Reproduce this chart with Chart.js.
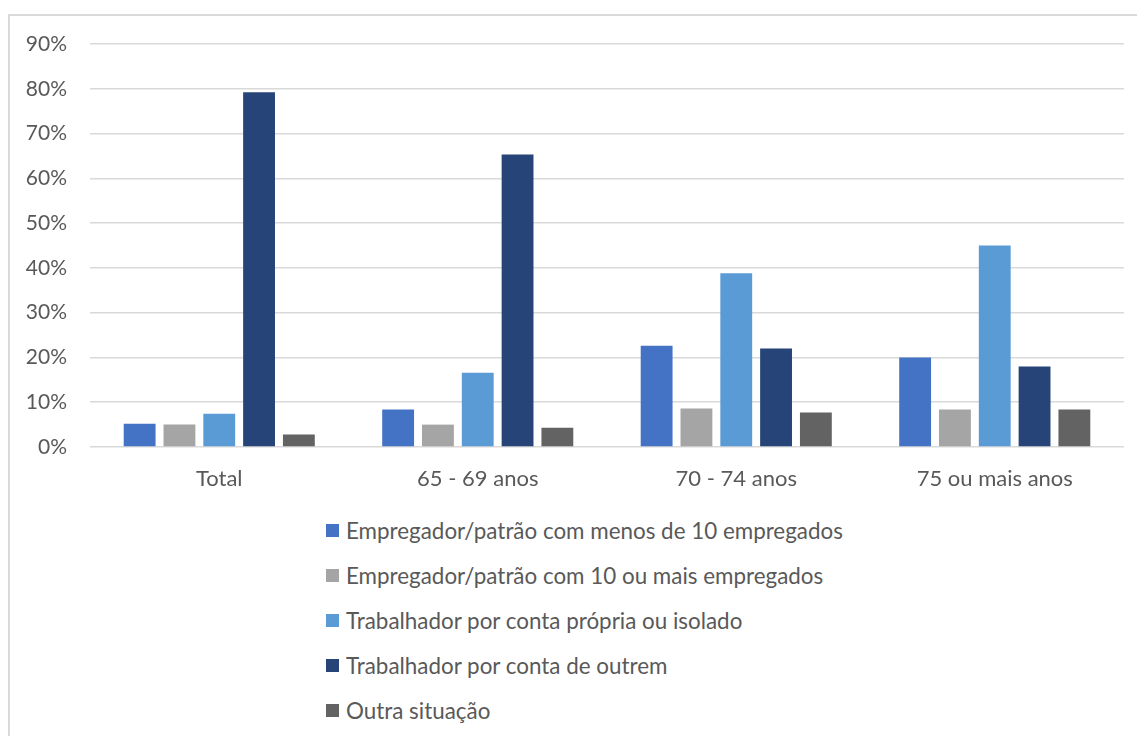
<!DOCTYPE html>
<html>
<head>
<meta charset="utf-8">
<script src="https://cdn.jsdelivr.net/npm/chart.js@4.4.1/dist/chart.umd.min.js"></script>
<style>
    html, body { margin: 0; padding: 0; background: #ffffff; }
    body { width: 1137px; height: 736px; overflow: hidden; position: relative; font-family: Lato, "Open Sans", sans-serif; }
    #frame {
        position: absolute; left: 8px; top: 14px; width: 1140px; height: 760px;
        border-left: 2px solid #d9d9d9; border-top: 2px solid #d9d9d9;
    }
    #chartBox { position: absolute; left: 0; top: 0; width: 1137px; height: 500px; }
    #legend { position: absolute; left: 326px; top: 508px; margin: 0; padding: 0; list-style: none; }
    #legend li { height: 45px; display: flex; align-items: center; color: #595959; font-size: 22.4px; }
    #legend li span.box { width: 13px; height: 13px; margin-right: 7px; display: inline-block; }
</style>
</head>
<body>
<div id="frame"></div>
<div id="chartBox"><canvas id="situacaoCanvas"></canvas></div>
<ul id="legend"></ul>
<script>
    // Dados (%)
    const categorias = ['Total', '65 - 69 anos', '70 - 74 anos', '75 ou mais anos'];
    const seriesNomes = [
        'Empregador/patrão com menos de 10 empregados',
        'Empregador/patrão com 10 ou mais empregados',
        'Trabalhador por conta própria ou isolado',
        'Trabalhador por conta de outrem',
        'Outra situação'
    ];
    const empMenos10 = [5.2, 8.4, 22.6, 20.0];
    const empMais10 = [5.0, 5.0, 8.6, 8.4];
    const contaPropria = [7.4, 16.6, 38.8, 45.0];
    const contaOutrem = [79.2, 65.3, 22.0, 18.0];
    const outra = [2.8, 4.3, 7.7, 8.4];
    const cores = ['#4472C4', '#A5A5A5', '#5B9BD5', '#264478', '#636363'];
    const yTicks = [0, 10, 20, 30, 40, 50, 60, 70, 80, 90];

    const valores = [empMenos10, empMais10, contaPropria, contaOutrem, outra];
    const fonte = 'Lato, "Open Sans", sans-serif';

    const ctx = document.getElementById('situacaoCanvas').getContext('2d');
    const chart = new Chart(ctx, {
        type: 'bar',
        data: {
            labels: categorias,
            datasets: valores.map((v, i) => ({
                label: seriesNomes[i],
                data: v,
                backgroundColor: cores[i],
                borderWidth: 0,
                barPercentage: 0.8,
                categoryPercentage: 0.77
            }))
        },
        options: {
            responsive: true,
            maintainAspectRatio: false,
            animation: false,
            layout: { padding: { left: 10, right: 13, top: 44, bottom: 0 } },
            plugins: {
                legend: { display: false },
                tooltip: { enabled: false }
            },
            scales: {
                y: {
                    min: 0,
                    max: 90,
                    afterFit: function (scale) { scale.width = 80; },
                    afterBuildTicks: function (scale) { scale.ticks = yTicks.map(v => ({ value: v })); },
                    border: { display: false },
                    grid: { color: '#d9d9d9', lineWidth: 1.5, drawTicks: false },
                    ticks: {
                        color: '#595959', padding: 23,
                        font: { family: fonte, size: 21 },
                        callback: function (value) { return value + '%'; }
                    }
                },
                x: {
                    afterFit: function (scale) { scale.height = 53; },
                    border: { display: false },
                    grid: { display: false, drawTicks: false },
                    ticks: { color: '#595959', padding: 19, font: { family: fonte, size: 22 } }
                }
            }
        }
    });

    // Legenda vertical, uma série por linha
    const legend = document.getElementById('legend');
    seriesNomes.forEach((nome, i) => {
        const li = document.createElement('li');
        const box = document.createElement('span');
        box.className = 'box';
        box.style.background = cores[i];
        li.appendChild(box);
        li.appendChild(document.createTextNode(nome));
        legend.appendChild(li);
    });
</script>
</body>
</html>
